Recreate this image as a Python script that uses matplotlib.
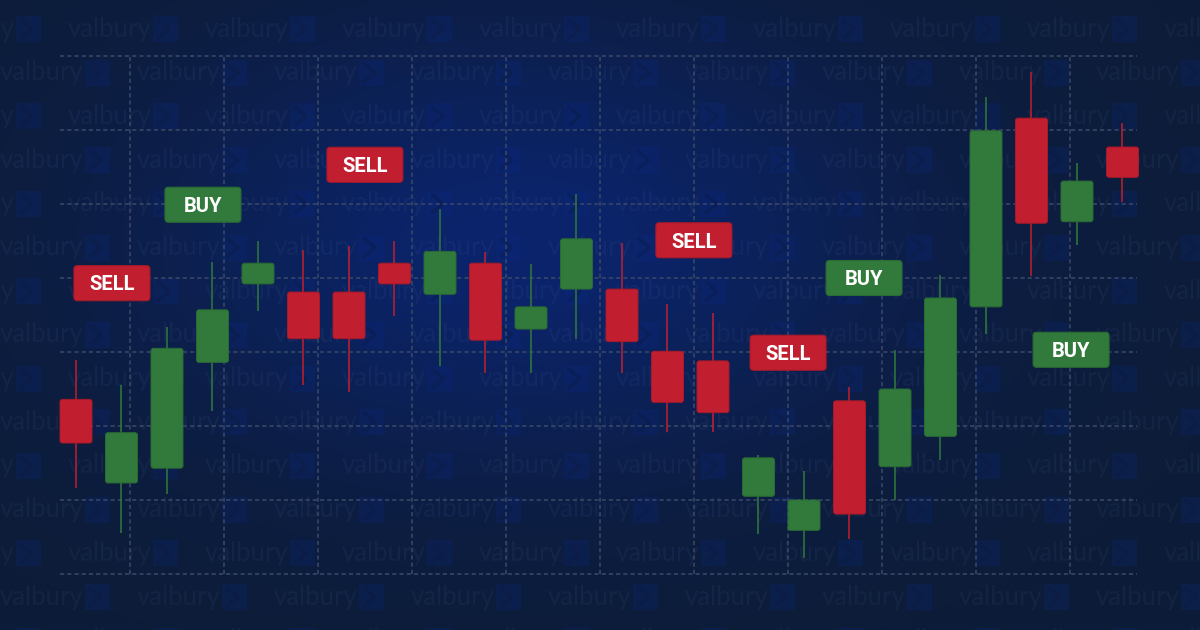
import numpy as np
import matplotlib
matplotlib.use("Agg")
import matplotlib.pyplot as plt
from matplotlib.patches import FancyBboxPatch, Rectangle

plt.rcParams['lines.scale_dashes'] = False

# ---- data (price units) ----
opens  = [23.6, 12.3, 14.3, 28.6, 39.2, 38.1, 38.1, 42.0, 37.8, 42.0, 33.1, 38.5,
          38.5, 30.1, 28.8, 10.5, 5.9, 23.4, 14.5, 18.6, 36.1, 61.6, 47.6, 57.7]
closes = [17.7, 19.1, 30.5, 35.7, 42.0, 31.8, 31.8, 39.2, 43.6, 31.6, 36.1, 45.3,
          31.4, 23.2, 21.8, 15.7, 10.0, 8.1, 25.0, 37.3, 59.9, 47.4, 53.1, 53.6]
highs  = [28.9, 25.5, 33.4, 42.2, 45.0, 43.8, 44.3, 45.0, 49.3, 43.5, 41.9, 51.4,
          44.7, 36.5, 35.3, 16.1, 13.9, 25.3, 30.3, 40.4, 64.5, 67.8, 55.5, 60.9]
lows   = [11.6, 5.5, 10.8, 22.0, 35.5, 25.5, 24.6, 34.9, 28.1, 27.2, 27.2, 31.8,
          27.2, 19.2, 19.2, 5.4, 2.2, 4.7, 10.0, 15.4, 32.4, 40.3, 44.5, 50.3]

signals  = ["SELL", "BUY", "SELL", "SELL", "SELL", "BUY", "BUY"]
signal_x = [0.79, 2.79, 6.35, 13.58, 15.65, 17.32, 21.87]
signal_p = [39.3, 49.9, 55.3, 45.1, 29.9, 40.0, 30.3]

watermark = "valbury"

# ---- style ----
RED = "#c11f2f"
RED_EDGE = "#a81a29"
GREEN = "#317a3b"
GREEN_EDGE = "#2a6a34"
GRID = "#3b4a69"

W, H = 1200, 630
XPX = 45.5      # px per candle
YPX = 7.4       # px per price unit
X0PX = 76       # px of first candle
Y0PX = 574      # px of price 0

def px2x(px):
    return (px - X0PX) / XPX

def px2p(py):
    return (Y0PX - py) / YPX

fig = plt.figure(figsize=(12, 6.3), dpi=100)

# background axes in pixel coordinates
bg = fig.add_axes([0, 0, 1, 1])
bg.set_xlim(0, W)
bg.set_ylim(H, 0)
bg.axis('off')

yy, xx = np.mgrid[0:H, 0:W]
d = ((xx - 520) / 430.0) ** 2 + ((yy - 245) / 250.0) ** 2
g = np.exp(-d * 1.3)
edge = np.array([13, 28, 56]) / 255.0
center = np.array([11, 36, 108]) / 255.0
img = edge[None, None, :] * (1 - g[..., None]) + center[None, None, :] * g[..., None]
bg.imshow(img, extent=[0, W, H, 0], zorder=0, aspect='auto', interpolation='bilinear')

# watermark (very faint)
for k in range(15):
    y = 29 + 43.7 * k
    start = (68 if k % 2 == 0 else 0) - 137
    for x0 in np.arange(start, W + 10, 137):
        bg.text(x0, y, watermark, fontsize=18.5, family='Lato', color='#7090d0', alpha=0.07,
                va='center', ha='left', zorder=1)
        bg.add_patch(Rectangle((x0 + 85, y - 13), 25, 26, facecolor='#0a2a8a', alpha=0.22,
                               edgecolor='none', zorder=1))
        bg.plot([x0 + 89, x0 + 101, x0 + 89], [y - 10, y, y + 10], color='#0c1a3a',
                alpha=0.3, lw=2.5, zorder=1, solid_capstyle='butt')

# data axes
ax = fig.add_axes([0, 0, 1, 1])
ax.set_xlim(px2x(0), px2x(W))
ax.set_ylim(px2p(H), px2p(0))
ax.axis('off')
ax.patch.set_alpha(0)

# grid
gx0, gx1 = px2x(60), px2x(1137)
for p in range(0, 71, 10):
    ax.plot([gx0, gx1], [p, p], color=GRID, lw=1.1, dashes=(3.0, 2.2), zorder=2)
for k in range(11):
    vx = px2x(130 + 94 * k)
    ax.plot([vx, vx], [0, 70], color=GRID, lw=1.1, dashes=(3.0, 2.2), zorder=2)

# candles
bw = 32 / XPX
aspect = XPX / YPX
for i, (o, c, h, l) in enumerate(zip(opens, closes, highs, lows)):
    up = c >= o
    col = GREEN if up else RED
    ecol = GREEN_EDGE if up else RED_EDGE
    ax.plot([i, i], [l, h], color=col, lw=1.1, zorder=3, solid_capstyle='butt')
    bot = min(o, c)
    ax.add_patch(FancyBboxPatch((i - bw / 2, bot), bw, abs(c - o),
                                boxstyle=f"round,pad=0,rounding_size={2.5 / XPX}",
                                mutation_aspect=aspect, facecolor=col, edgecolor=ecol,
                                lw=0.7, zorder=4))

# signal labels
lw_ = 76 / XPX
lh_ = 35 / YPX
for s, x, p in zip(signals, signal_x, signal_p):
    col = GREEN if s == "BUY" else RED
    ecol = GREEN_EDGE if s == "BUY" else RED_EDGE
    ax.add_patch(FancyBboxPatch((x - lw_ / 2, p - lh_ / 2), lw_, lh_,
                                boxstyle=f"round,pad=0,rounding_size={3.5 / XPX}",
                                mutation_aspect=aspect, facecolor=col, edgecolor=ecol,
                                lw=0.8, zorder=5))
    ax.text(x, p - 7.3 / YPX, s, color='white', fontsize=14.5, fontweight='bold',
            family='Roboto', ha='center', va='baseline', zorder=6)

fig.savefig("out.png", dpi=100)
